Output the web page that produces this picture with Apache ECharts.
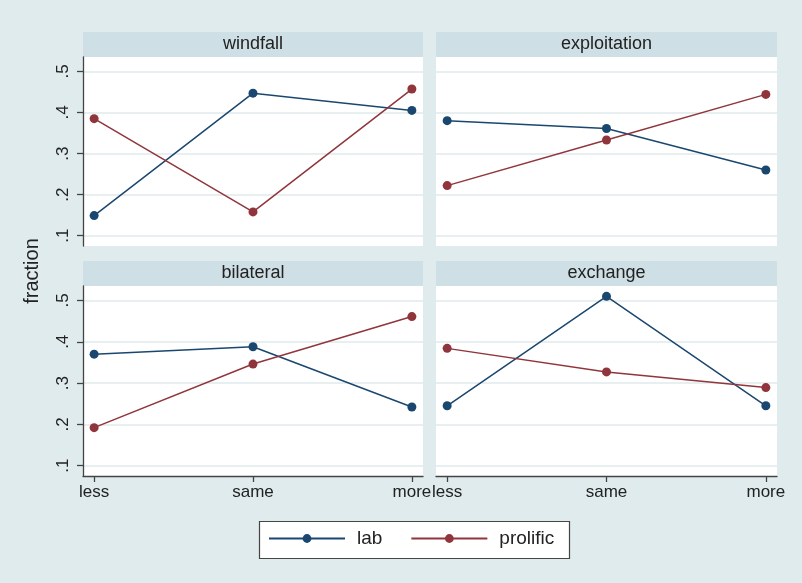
<!DOCTYPE html>
<html>
<head>
<meta charset="utf-8">
<script src="https://cdn.jsdelivr.net/npm/echarts@6/dist/echarts.min.js"></script>
<style>
  html, body { margin: 0; padding: 0; background: #dfebec; }
  #chart { width: 802px; height: 583px; }
</style>
</head>
<body>
<div id="chart"></div>
<script>
// datos
const categorias = ['less', 'same', 'more'];
const paneles = ['windfall', 'exploitation', 'bilateral', 'exchange'];
const ticksY = [0.1, 0.2, 0.3, 0.4, 0.5];
const etiquetasY = ['.1', '.2', '.3', '.4', '.5'];

const labWindfall = [0.149, 0.447, 0.405];
const prolificWindfall = [0.385, 0.158, 0.457];
const labExploitation = [0.380, 0.361, 0.260];
const prolificExploitation = [0.222, 0.333, 0.444];
const labBilateral = [0.370, 0.388, 0.242];
const prolificBilateral = [0.192, 0.346, 0.461];
const labExchange = [0.245, 0.510, 0.245];
const prolificExchange = [0.384, 0.327, 0.289];

const labPorPanel = [labWindfall, labExploitation, labBilateral, labExchange];
const prolificPorPanel = [prolificWindfall, prolificExploitation, prolificBilateral, prolificExchange];

const AZUL = '#1a476f';
const ROJO = '#90353b';
const FUENTE = '"Liberation Sans", Arial, sans-serif';
const TEXTO = '#222';

// posiciones de los paneles (izquierda, arriba, ancho, alto)
const cajas = [
  { left: 83, top: 57, width: 340, height: 189 },
  { left: 436, top: 57, width: 341, height: 189 },
  { left: 83, top: 286, width: 340, height: 190 },
  { left: 436, top: 286, width: 341, height: 190 },
];

const myChart = echarts.init(document.getElementById('chart'), null, { renderer: 'canvas' });

const grids = cajas.map(c => ({
  left: c.left, top: c.top, width: c.width, height: c.height,
  show: true, backgroundColor: '#fff', borderWidth: 0,
}));

const xAxes = cajas.map((c, i) => {
  const abajo = i >= 2;
  return {
    type: 'value', gridIndex: i, min: -0.07, max: 2.07,
    axisLine: { show: abajo, onZero: false, lineStyle: { color: '#444', width: 1.3 } },
    axisTick: { show: abajo, length: 6, customValues: [0, 1, 2], lineStyle: { color: '#444', width: 1.3 } },
    axisLabel: {
      show: abajo, customValues: [0, 1, 2], margin: 8,
      formatter: v => categorias[Math.round(v)],
      fontSize: 17, fontFamily: FUENTE, color: TEXTO,
    },
    splitLine: { show: false },
  };
});

const yAxes = cajas.map((c, i) => {
  const izq = i % 2 === 0;
  return {
    type: 'value', gridIndex: i, min: 0.075, max: 0.535,
    axisLine: { show: izq, onZero: false, lineStyle: { color: '#444', width: 1.3 } },
    axisTick: { show: izq, length: 6, customValues: ticksY, lineStyle: { color: '#444', width: 1.3 } },
    axisLabel: {
      show: izq, customValues: ticksY, rotate: 90, margin: 11,
      formatter: v => etiquetasY[Math.round(v * 10) - 1],
      fontSize: 17, fontFamily: FUENTE, color: TEXTO,
    },
    splitLine: { show: true, lineStyle: { color: '#e0eaeb', width: 1.6 } },
  };
});

const series = [];
paneles.forEach((p, i) => {
  [['lab', labPorPanel[i], AZUL], ['prolific', prolificPorPanel[i], ROJO]].forEach(([nombre, valores, color]) => {
    series.push({
      name: nombre, type: 'line', xAxisIndex: i, yAxisIndex: i,
      data: valores.map((v, k) => [k, v]),
      symbol: 'circle', symbolSize: 9, clip: false,
      lineStyle: { color: color, width: 1.5 },
      itemStyle: { color: color },
    });
  });
});

// franjas de títulos de cada panel
const graficos = [];
cajas.forEach((c, i) => {
  graficos.push({
    type: 'rect', z: -1, silent: true,
    shape: { x: c.left, y: c.top - 25, width: c.width, height: 25 },
    style: { fill: '#cedfe5' },
  });
  graficos.push({
    type: 'text', silent: true,
    x: c.left + c.width / 2, y: c.top - 12.5,
    style: { text: paneles[i], font: '18px ' + FUENTE, fill: TEXTO, align: 'center', verticalAlign: 'middle' },
  });
});
// título del eje Y
graficos.push({
  type: 'text', silent: true, x: 32, y: 271, rotation: Math.PI / 2,
  style: { text: 'fraction', font: '20px ' + FUENTE, fill: TEXTO, align: 'center', verticalAlign: 'middle' },
});
// caja de la leyenda
graficos.push({
  type: 'rect', z: -1, silent: true,
  shape: { x: 259.5, y: 521.5, width: 310, height: 37 },
  style: { fill: '#fff', stroke: '#444', lineWidth: 1.2 },
});

const option = {
  animation: false,
  backgroundColor: '#dfebec',
  grid: grids,
  xAxis: xAxes,
  yAxis: yAxes,
  series: series,
  legend: {
    data: ['lab', 'prolific'],
    orient: 'horizontal',
    left: 268, top: 529,
    padding: 0,
    itemWidth: 76, itemHeight: 11, itemGap: 28,
    textStyle: { fontSize: 19, fontFamily: FUENTE, color: TEXTO, padding: [0, 0, 0, 7] },
  },
  graphic: graficos,
};

myChart.setOption(option);
</script>
</body>
</html>
